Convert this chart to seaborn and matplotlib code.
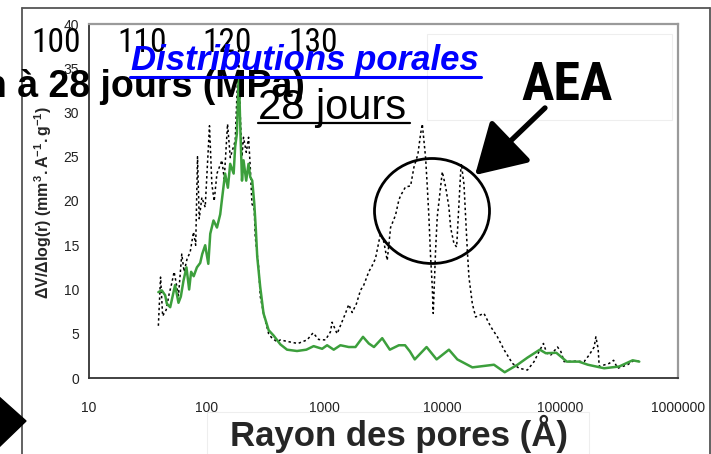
import numpy as np
import pandas as pd
import seaborn as sns
import matplotlib
matplotlib.use("Agg")
import matplotlib.pyplot as plt
from matplotlib.patches import Ellipse, Polygon, Rectangle, FancyArrowPatch
from matplotlib.lines import Line2D
from matplotlib.ticker import LogLocator, FixedLocator, NullFormatter, FuncFormatter

# ---------------------------------------------------------------- data
# Pore radius (Å) and dV/dlog(r) for the reference mortar (solid green)
ref_radius = [38.8, 41.5, 44.3, 45.8, 48.9, 53.8, 57.5, 60.2, 63.4, 67.2,
              70.8, 73.6, 77.4, 82.4, 87.9, 91.4, 96.9, 103, 107, 114,
              122, 130, 134, 143, 151, 158, 169, 174, 180, 187,
              192, 199, 205, 216, 226, 234, 243, 253, 261, 268,
              284, 303, 335, 369, 421, 480, 583, 700, 807, 953,
              1050, 1195, 1362, 1603, 1828, 2118, 2372, 2624, 3083, 3579,
              4270, 4820, 5300, 5825, 7340, 8930, 11360, 13390, 17970, 27400,
              33800, 43400, 52700, 67100, 75500, 92700, 113800, 143900, 171700, 236300,
              316700, 412000, 469000]
ref_dv = [9.7, 9.9, 9.35, 8.4, 8.0, 10.5, 8.5, 9.2, 11.0, 12.5,
          10.0, 12.0, 11.5, 12.5, 13.0, 14.0, 15.0, 12.9, 16.3, 17.8,
          17.0, 18.5, 20.0, 23.1, 21.5, 24.2, 23.1, 26.1, 27.6, 34.7,
          28.7, 22.3, 24.6, 22.3, 24.2, 22.7, 22.3, 19.7, 16.7, 13.7,
          10.3, 7.3, 5.4, 4.8, 3.8, 3.2, 3.05, 3.2, 3.6, 3.3,
          3.7, 3.2, 3.7, 3.5, 3.5, 4.65, 3.9, 3.5, 4.5, 3.2,
          3.7, 3.7, 3.0, 2.1, 3.5, 2.1, 3.2, 2.1, 1.2, 1.5,
          0.65, 1.5, 2.3, 3.2, 2.8, 2.85, 1.85, 1.85, 1.5, 1.1,
          1.3, 2.0, 1.85]

# Pore radius (Å) and dV/dlog(r) for the mortar with air-entraining agent (dotted)
aea_radius = [38.8, 40.5, 42.2, 45.2, 47.9, 50.4, 52.8, 57.5, 61.3, 64.2,
              68.1, 72.2, 77.1, 80.5, 83.4, 86.2, 90.8, 96.9, 105.4, 110.4,
              115.5, 121.9, 134.4, 140.6, 150.0, 158.2, 174.3, 186.2, 192.3, 198.8,
              205.0, 216.3, 226.3, 233.9, 241.7, 252.9, 258.0, 275.4, 284.5, 303.5,
              334.9, 357.8, 394.8, 421.0, 495.4, 593.1, 709.9, 798.4, 890.9, 1016,
              1120, 1158, 1277, 1503, 1603, 1714, 1864, 2015, 2151, 2371,
              2535, 2704, 2980, 3182, 3400, 3508, 3630, 4000, 4268, 4414,
              4866, 5370, 5729, 6197, 6533, 6750, 7200, 7445, 7680, 7940,
              8205, 8360, 8750, 9040, 9655, 9980, 10650, 11360, 11740, 12530,
              13210, 13810, 14290, 14490, 15240, 15750, 16280, 16800, 17950, 19150,
              22540, 25700, 29300, 33350, 39300, 44770, 52700, 60000, 66200, 72100,
              76900, 83200, 94900, 101200, 108000, 135800, 159600, 176200, 194200, 200800,
              210000, 214300, 260600, 284000, 307000, 373300, 424600, 478100]
aea_dv = [5.9, 11.4, 7.0, 7.7, 9.5, 10.7, 12.0, 9.3, 14.0, 12.0,
          13.5, 14.2, 16.5, 15.0, 25.0, 18.0, 20.4, 19.3, 28.5, 21.9,
          20.0, 23.1, 24.6, 22.5, 28.7, 24.9, 26.8, 37.0, 29.8, 25.0,
          27.2, 25.5, 27.2, 23.8, 19.7, 19.0, 15.9, 12.5, 9.2, 7.3,
          5.0, 4.5, 4.1, 4.3, 4.1, 3.9, 4.3, 5.1, 4.35, 4.3,
          5.2, 6.3, 5.0, 7.3, 8.3, 7.4, 8.4, 9.9, 10.5, 12.0,
          12.7, 13.5, 16.3, 15.4, 13.3, 15.0, 17.0, 18.4, 20.1, 20.6,
          21.6, 21.7, 23.8, 25.3, 27.6, 28.7, 24.9, 21.6, 18.2, 13.7,
          10.3, 7.3, 14.4, 18.2, 21.6, 23.3, 21.6, 19.3, 17.0, 15.2,
          14.8, 19.7, 23.3, 24.2, 21.9, 18.2, 14.4, 11.4, 8.4, 6.9,
          7.3, 5.8, 4.65, 3.2, 1.65, 1.1, 0.9, 1.85, 3.0, 3.9,
          2.8, 2.6, 3.5, 3.0, 1.85, 1.9, 1.85, 2.6, 3.5, 4.65,
          3.3, 1.3, 1.65, 2.0, 1.1, 1.5, 2.0, 1.85]

x_ticks = [10, 100, 1000, 10000, 100000, 1000000]
y_ticks = [0, 5, 10, 15, 20, 25, 30, 35, 40]
top_labels = ["100", "110", "120", "130"]

# ---------------------------------------------------------------- style
sns.set_style("white")
plt.rcParams["font.family"] = ["Liberation Sans", "DejaVu Sans"]
plt.rcParams["mathtext.fontset"] = "custom"
plt.rcParams["mathtext.rm"] = "Liberation Sans"
plt.rcParams["mathtext.bf"] = "Liberation Sans:bold"
plt.rcParams["mathtext.it"] = "Liberation Sans:italic"
NARROW = ["Roboto Condensed", "Liberation Sans"]

W, H = 711, 454
fig = plt.figure(figsize=(W / 100, H / 100), dpi=100)


def fx(px):
    return px / W


def fy(py):
    return 1 - py / H


ax = fig.add_axes([fx(89), fy(378), fx(678) - fx(89), fy(24) - fy(378)])

ref_df = pd.DataFrame({"rayon": ref_radius, "dv": ref_dv})
aea_df = pd.DataFrame({"rayon": aea_radius, "dv": aea_dv})

sns.lineplot(data=ref_df, x="rayon", y="dv", ax=ax, color="#3c9f3c",
             linewidth=1.8, sort=False, estimator=None, zorder=3)
sns.lineplot(data=aea_df, x="rayon", y="dv", ax=ax, color="black",
             linewidth=1.1, linestyle=(0, (1.6, 1.8)), sort=False,
             estimator=None, zorder=2)

ax.set_xscale("log")
ax.set_xlim(10, 1000000)
ax.set_ylim(0, 40)
ax.set_xlabel("")
ax.set_ylabel("")

ax.xaxis.set_major_locator(FixedLocator(x_ticks))
ax.xaxis.set_minor_locator(LogLocator(base=10, subs=np.arange(2, 10)))
ax.xaxis.set_minor_formatter(NullFormatter())
ax.xaxis.set_major_formatter(FuncFormatter(lambda v, p: f"{int(round(v))}"))
ax.yaxis.set_major_locator(FixedLocator(y_ticks))

ax.tick_params(axis="x", which="major", direction="inout", length=7,
               width=1.0, color="#333333", labelsize=10, pad=13,
               labelcolor="#222222")
ax.tick_params(axis="x", which="minor", direction="inout", length=5,
               width=0.9, color="#333333")
ax.tick_params(axis="y", which="major", direction="out", length=4,
               width=1.0, color="#333333", labelsize=10, pad=3,
               labelcolor="#222222")

for side in ("left", "bottom"):
    ax.spines[side].set_color("#333333")
    ax.spines[side].set_linewidth(1.3)
for side in ("top", "right"):
    ax.spines[side].set_color("#9a9a9a")
    ax.spines[side].set_linewidth(1.6)

# y-axis title
fig.text(fx(43), fy(203),
         r"$\mathbf{\Delta V/\Delta log(r)\ (mm^{3}.A^{-1}.g^{-1})}$",
         rotation=90, ha="center", va="center", fontsize=11.5)

# outer slide frame
for (x0, y0, x1, y1) in [(22, 8, 710, 8), (22, 8, 22, 460), (710, 8, 710, 460)]:
    fig.add_artist(Line2D([fx(x0), fx(x1)], [fy(y0), fy(y1)],
                          transform=fig.transFigure, color="#555555", lw=1.3))

# faint box behind the AEA label
fig.add_artist(Rectangle((fx(427), fy(120)), fx(672) - fx(427), fy(34) - fy(120),
                         transform=fig.transFigure, facecolor="none",
                         edgecolor="#eeeeee", lw=0.8))

# white box carrying the x-axis title
fig.add_artist(Rectangle((fx(207), fy(470)), fx(589) - fx(207), fy(412) - fy(470),
                         transform=fig.transFigure, facecolor="white",
                         edgecolor="#eeeeee", lw=0.8, zorder=5))
fig.text(fx(399), fy(446), "Rayon des pores (Å)", ha="center", va="baseline",
         fontsize=25, fontweight="bold", zorder=6)

# labels of a scale above the plot
for lab, cx in zip(top_labels, [56, 142, 227, 313]):
    fig.text(fx(cx), fy(52), lab, ha="center", va="baseline", fontsize=24,
             color="black", zorder=6, family=NARROW)

fig.text(fx(131), fy(70), "Distributions porales", ha="left", va="baseline",
         fontsize=25, fontweight="bold", style="italic", color="#0000ff",
         zorder=7)
fig.add_artist(Line2D([fx(130), fx(481)], [fy(77), fy(77)],
                      transform=fig.transFigure, color="#0000ff", lw=2.2,
                      zorder=7))

fig.text(fx(305), fy(97), "n à 28 jours (MPa)", ha="right", va="baseline",
         fontsize=27, fontweight="bold", color="black", zorder=6)

fig.text(fx(258), fy(119), "28 jours", ha="left", va="baseline",
         fontsize=30, color="black", zorder=6)
fig.add_artist(Line2D([fx(258), fx(410)], [fy(123), fy(123)],
                      transform=fig.transFigure, color="black", lw=1.6,
                      zorder=6))

fig.text(fx(521), fy(100), "AEA", ha="left", va="baseline", fontsize=39,
         fontweight="bold", color="black", zorder=6, family=NARROW)

# circled region and pointer
fig.add_artist(Ellipse((fx(432), fy(211)), fx(115), 105 / H,
                       transform=fig.transFigure, facecolor="none",
                       edgecolor="black", lw=2.0, zorder=6))
fig.add_artist(FancyArrowPatch((fx(547), fy(106)), (fx(473), fy(177)),
                               transform=fig.transFigure,
                               arrowstyle="-|>,head_length=1.1,head_width=0.65",
                               mutation_scale=28, lw=3.8, color="black",
                               zorder=6))

# bullet marker at the lower left
fig.add_artist(Polygon([(fx(-2), fy(396)), (fx(26), fy(421)), (fx(-2), fy(448))],
                       closed=True, transform=fig.transFigure,
                       facecolor="black", edgecolor="black", zorder=6))

fig.savefig("out.png", dpi=100)
